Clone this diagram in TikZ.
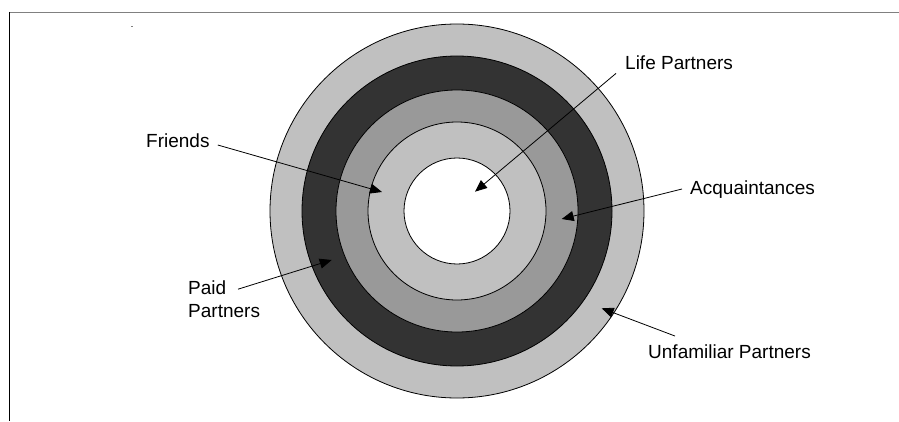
\documentclass[tikz,border=0pt]{standalone}
\usepackage{fontspec}
\setmainfont{Liberation Sans}
\usepackage{xcolor}
\usepackage{tikz}
\usetikzlibrary{arrows.meta, positioning, calc}

\definecolor{ringlight}{HTML}{C0C0C0}
\definecolor{ringdark}{HTML}{333333}
\definecolor{ringmid}{HTML}{999999}

\tikzset{
  ring/.style={draw=black, line width=0.8pt},
  lbl/.style={inner sep=3pt, font=\fontsize{19}{23}\selectfont},
  pointer/.style={-{Triangle[length=12pt,width=10pt]}, line width=0.8pt},
}

\begin{document}
\begin{tikzpicture}[x=1pt, y=1pt]
  \useasboundingbox (0,0) rectangle (899,421);
  % frame
  \draw[gray, line width=1.5pt] (9,408.3) -- (899,408.3);
  \draw[black, line width=0.8pt] (9.3,409) -- (9.3,0);
  \draw[gray, line width=1pt] (131,394) -- (133,394);

  % rings, outside in
  \coordinate (c) at (457,210);
  \filldraw[ring, fill=ringlight] (c) circle[radius=187];
  \filldraw[ring, fill=ringdark] (c) circle[radius=155];
  \filldraw[ring, fill=ringmid] (c) circle[radius=121];
  \filldraw[ring, fill=ringlight] (c) circle[radius=89];
  \filldraw[ring, fill=white] (c) circle[radius=53];

  \coordinate (lifetip) at (475,229.3);
  \coordinate (friendtip) at (382,229);
  \coordinate (paidtip) at (331.7,161);
  \coordinate (acqtip) at (561.7,202);
  \coordinate (unfamtip) at (601.7,112.7);

  \node[lbl, anchor=base west] (life) at (622,351) {Life Partners};
  \node[lbl, anchor=base west] (friends) at (143,273) {Friends};
  \node[lbl, anchor=north west, align=left] (paid) at (185,143.8) {Paid\\Partners};
  \node[lbl, anchor=base west] (acq) at (687,227) {Acquaintances};
  \node[lbl, anchor=base west] (unfam) at (645,63) {Unfamiliar Partners};

  \draw[pointer] ([xshift=-6pt]life.south west) -- (lifetip);
  \draw[pointer] ([shift={(5pt,3pt)}]friends.base east) -- (friendtip);
  \draw[pointer] ([shift={(53pt,-12pt)}]paid.north west) -- (paidtip);
  \draw[pointer] ([shift={(-5pt,5pt)}]acq.base west) -- (acqtip);
  \draw[pointer] ([shift={(30pt,5pt)}]unfam.north west) -- (unfamtip);
\end{tikzpicture}
\end{document}
